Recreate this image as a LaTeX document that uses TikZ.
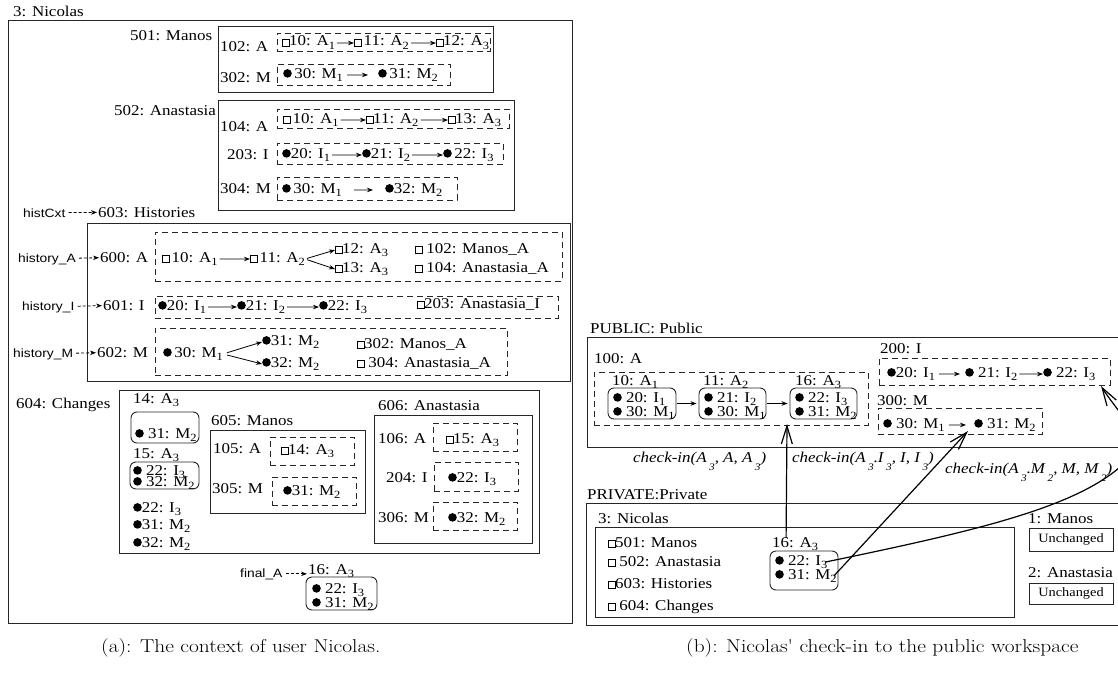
\documentclass[tikz,border=0pt]{standalone}
\usepackage{fontspec}
\setmainfont{Liberation Serif}[FakeStretch=1.13]
\newfontfamily\sansf{Liberation Sans}[FakeStretch=1.15]
\newfontfamily\capf{Latin Modern Roman}[FakeStretch=1.15]
\usetikzlibrary{arrows.meta,fit}

% small glyphs used inside the labels
\newcommand\sqr{\tikz[baseline=0pt]\draw[solid,line width=0.6pt] (0.4pt,0pt) rectangle (6.8pt,6.4pt);}
\newcommand\bul{\tikz[baseline=0pt]\fill[solid] (4.3pt,4.6pt) circle[radius=4.3pt];}
\newcommand\lo[1]{\raisebox{-0.26em}{\fontsize{11}{11}\selectfont #1}}
\newcommand\lolo[1]{\,\raisebox{-0.55em}{\fontsize{10}{10}\selectfont #1}}

\tikzset{
  txt/.style={anchor=base west,inner sep=0pt,font=\fontsize{15}{16}\selectfont},
  itxt/.style={txt,font=\fontsize{15}{16}\selectfont\itshape},
  stxt/.style={anchor=base west,inner sep=0pt,font=\sansf\fontsize{12}{13}\selectfont},
  solidbox/.style={draw=black!85,line width=0.9pt,inner sep=0pt},
  dashbox/.style={draw=black!85,line width=0.9pt,inner sep=0pt,dash pattern=on 6pt off 4pt},
  roundbox/.style={draw=black!85,line width=0.9pt,inner sep=0pt,rounded corners=6pt},
  arr/.style={-{Stealth[length=6pt,width=4.5pt]},line width=0.8pt,shorten <=2pt},
  darr/.style={-{Stealth[length=6pt,width=4.5pt]},line width=0.8pt,dash pattern=on 3pt off 2pt,shorten <=3pt,shorten >=1pt},
  ck/.style={-{Straight Barb[length=18pt,width=11pt]},line width=1.2pt},
  captxt/.style={anchor=base west,inner sep=0pt,font=\capf\fontsize{18.6}{20}\selectfont},
}

\begin{document}
\begin{tikzpicture}[x=1pt,y=-1pt]
\useasboundingbox (0,0) rectangle (1118,677);

% ===================== (a) context of Nicolas =====================
\node[txt] (nic) at (13,17) {3: Nicolas};
\node[solidbox,fit={(8,20) (572,623)}] (ctx) {};

% 501: Manos
\node[txt] (l501) at (130,41) {501: Manos};
\node[solidbox,fit={(218,26) (493,92)}] (b501) {};
\node[txt] (l102) at (220,52) {102: A};
\node[dashbox,fit={(277,33) (490,51)}] (d102) {};
\node[txt] (a10) at (282,46) {\sqr10: A\lo1};
\node[txt] (a11) at (354,46) {\sqr\,11: A\lo2};
\node[txt] (a12) at (436,46) {\sqr12: A\lo3};
\draw[arr] (a10) -- (a11);
\draw[arr] (a11) -- (a12);
\node[txt] (l302) at (220,82) {302: M};
\node[dashbox,fit={(277,64) (450,85)}] (d302) {};
\node[txt] (a30) at (283,78) {\bul\,30: M\lo1};
\node[txt] (a31) at (378,78) {\bul\,31: M\lo2};
\draw[arr,shorten <=4pt,shorten >=10pt] (a30) -- (a31);

% 502: Anastasia
\node[txt] (l502) at (114,115) {502: Anastasia};
\node[solidbox,fit={(218,100) (514,210)}] (b502) {};
\node[txt] (l104) at (220,131) {104: A};
\node[dashbox,fit={(277,109) (509,128)}] (d104) {};
\node[txt] (b10) at (283,123) {\sqr\,10: A\lo1};
\node[txt] (b11) at (366,123) {\sqr11: A\lo2};
\node[txt] (b13) at (448,123) {\sqr13: A\lo3};
\draw[arr] (b10) -- (b11);
\draw[arr] (b11) -- (b13);
\node[txt] (l203) at (227,159) {203: I};
\node[dashbox,fit={(277,143) (503,164)}] (d203) {};
\node[txt] (b20) at (282,158) {\bul20: I\lo1};
\node[txt] (b21) at (362,158) {\bul21: I\lo2};
\node[txt] (b22) at (443,158) {\bul\,22: I\lo3};
\draw[arr] (b20) -- (b21);
\draw[arr] (b21) -- (b22);
\node[txt] (l304) at (220,193) {304: M};
\node[dashbox,fit={(277,177) (457,200)}] (d304) {};
\node[txt] (b30) at (282,193) {\bul\,30: M\lo1};
\node[txt] (b32) at (385,193) {\bul32: M\lo2};
\draw[arr,shorten <=12pt,shorten >=12pt] (b30) -- (b32);

% 603: Histories
\node[stxt] (hcx) at (23,217) {histCxt};
\node[txt] (l603) at (98,217) {603: Histories};
\draw[darr] (hcx) -- (l603);
\node[solidbox,fit={(87,223) (570,381)}] (b603) {};

\node[stxt] (hA) at (18,262) {history\_A};
\node[txt] (l600) at (100,262) {600: A};
\draw[darr] (hA) -- (l600);
\node[dashbox,fit={(155,232) (562,281)}] (d600) {};
\node[txt] (h10) at (162,262) {\sqr\,10: A\lo1};
\node[txt] (h11) at (250,262) {\sqr\,11: A\lo2};
\node[txt] (h12) at (335,253) {\sqr12: A\lo3};
\node[txt] (h13) at (335,272) {\sqr13: A\lo3};
\draw[arr] (h10) -- (h11);
\draw[arr] (h11.east) -- (h12.west);
\draw[arr] (h11.east) -- (h13.west);
\node[txt] (h102) at (415,253) {\sqr\ 102: Manos\_A};
\node[txt] (h104) at (415,272) {\sqr\ 104: Anastasia\_A};

\node[stxt] (hI) at (22,310) {history\_I};
\node[txt] (l601) at (103,310) {601: I};
\draw[darr] (hI) -- (l601);
\node[dashbox,fit={(155,296) (558,318)}] (d601) {};
\node[txt] (h20) at (158,310) {\bul20: I\lo1};
\node[txt] (h21) at (237,310) {\bul21: I\lo2};
\node[txt] (h22) at (319,310) {\bul22: I\lo3};
\draw[arr] (h20) -- (h21);
\draw[arr] (h21) -- (h22);
\node[txt] (h203) at (417,308) {\sqr203: Anastasia\_I};

\node[stxt] (hM) at (13,357) {history\_M};
\node[txt] (l602) at (97,357) {602: M};
\draw[darr] (hM) -- (l602);
\node[dashbox,fit={(155,328) (507,375)}] (d602) {};
\node[txt] (h30) at (163,357) {\bul\,30: M\lo1};
\node[txt] (h31) at (262,345) {\bul31: M\lo2};
\node[txt] (h32) at (262,367) {\bul32: M\lo2};
\draw[arr,shorten <=4pt] (h30.east) -- (h31.west);
\draw[arr,shorten <=4pt] (h30.east) -- (h32.west);
\node[txt] (h302) at (357,348) {\sqr302: Manos\_A};
\node[txt] (h304) at (357,367) {\sqr\ 304: Anastasia\_A};

% 604: Changes
\node[txt] (l604) at (16,408) {604: Changes};
\node[solidbox,fit={(119,390) (539,553)}] (b604) {};
\node[txt] (c14) at (133,403) {14: A\lo3};
\node[roundbox,fit={(131,412) (199,443)}] (r14) {};
\node[txt] (c14a) at (135,438) {\bul\ 31: M\lo2};
\node[txt] (c15) at (133,458) {15: A\lo3};
\node[roundbox,fit={(130,462) (199,489)}] (r15) {};
\node[txt] (c15a) at (133,475) {\bul\ 22: I\lo3};
\node[txt] (c15b) at (133,486) {\bul\ 32: M\lo2};
\node[txt] (c22) at (133,512) {\bul22: I\lo3};
\node[txt] (c31) at (133,529) {\bul31: M\lo2};
\node[txt] (c32) at (133,547) {\bul32: M\lo2};

\node[txt] (l605) at (211,425) {605: Manos};
\node[solidbox,fit={(210,430) (365,513)}] (b605) {};
\node[txt] (l105) at (213,453) {105: A};
\node[dashbox,fit={(270,437) (354,465)}] (d105) {};
\node[txt] (m14) at (281,454) {\sqr14: A\lo3};
\node[txt] (l305) at (212,493) {305: M};
\node[dashbox,fit={(272,477) (356,505)}] (d305) {};
\node[txt] (m31) at (283,495) {\bul31: M\lo2};

\node[txt] (l606) at (378,410) {606: Anastasia};
\node[solidbox,fit={(374,415) (532,543)}] (b606) {};
\node[txt] (l106) at (378,443) {106: A};
\node[dashbox,fit={(433,423) (517,451)}] (d106) {};
\node[txt] (n15) at (446,443) {\sqr15: A\lo3};
\node[txt] (l204) at (386,482) {204: I};
\node[dashbox,fit={(434,462) (518,491)}] (d204) {};
\node[txt] (n22) at (448,482) {\bul22: I\lo3};
\node[txt] (l306) at (378,522) {306: M};
\node[dashbox,fit={(433,502) (517,530)}] (d306) {};
\node[txt] (n32) at (448,522) {\bul32: M\lo2};

% final_A
\node[stxt] (fA) at (240,577) {final\_A};
\node[txt] (f16) at (308,574) {16: A\lo3};
\draw[darr] (fA.east) -- (fA.east -| f16.west);
\node[roundbox,fit={(306,577) (377,610)}] (r16) {};
\node[txt] (f22) at (312,593) {\bul\ 22: I\lo3};
\node[txt] (f31) at (312,607) {\bul\ 31: M\lo2};

% ===================== (b) check-in =====================
\node[txt] (lpub) at (590,333) {PUBLIC: Public};
\node[solidbox,fit={(587,337) (1140,447)}] (pub) {};
\node[txt] (l100) at (594,363) {100: A};
\node[dashbox,fit={(594,372) (868,425)}] (d100) {};
\node[txt] (p10) at (612,385) {10: A\lo1};
\node[roundbox,fit={(608,388) (676,419)}] (pr10) {};
\node[txt] (p10a) at (613,402) {\bul\ 20: I\lo1};
\node[txt] (p10b) at (613,416) {\bul\ 30: M\lo1};
\node[txt] (p11) at (703,385) {11: A\lo2};
\node[roundbox,fit={(699,388) (766,419)}] (pr11) {};
\node[txt] (p11a) at (704,402) {\bul\ 21: I\lo2};
\node[txt] (p11b) at (704,416) {\bul\ 30: M\lo1};
\node[txt] (p16) at (795,385) {16: A\lo3};
\node[roundbox,fit={(790,388) (857,419)}] (pr16) {};
\node[txt] (p16a) at (795,402) {\bul\ 22: I\lo3};
\node[txt] (p16b) at (795,416) {\bul\ 31: M\lo2};
\draw[arr,shorten <=1pt,shorten >=2pt] (pr10) -- (pr11);
\draw[arr,shorten <=1pt,shorten >=2pt] (pr11) -- (pr16);

\node[txt] (l200) at (880,353) {200: I};
\node[dashbox,fit={(879,358) (1110,385)}] (d200) {};
\node[txt] (q20) at (887,377) {\bul20: I\lo1};
\node[txt] (q21) at (965,377) {\bul\ 21: I\lo2};
\node[txt] (q22) at (1043,377) {\bul\ 22: I\lo3};
\draw[arr,shorten <=4pt,shorten >=5pt] (q20) -- (q21);
\draw[arr] (q21) -- (q22);
\node[txt] (l300) at (877,405) {300: M};
\node[dashbox,fit={(878,408) (1042,434)}] (d300) {};
\node[txt] (q30) at (883,428) {\bul\ 30: M\lo1};
\node[txt] (q31) at (974,428) {\bul\ 31: M\lo2};
\draw[arr,shorten <=4pt,shorten >=8pt] (q30) -- (q31);

\node[itxt] (ciA) at (633,462) {check-in(A\lolo3, A, A\lolo3)};
\node[itxt] (ciI) at (792,462) {check-in(A\lolo3.I\lolo3, I, I\lolo3)};
\node[itxt] (ciM) at (945,473) {check-in(A\lolo3.M\lolo2, M, M\lolo2)};

\node[txt] (lpriv) at (587,499) {PRIVATE:Private};
\node[solidbox,fit={(586,503) (1140,625)}] (priv) {};
\node[txt] (lnic) at (598,523) {3: Nicolas};
\node[solidbox,fit={(595,527) (1014,617)}] (bnic) {};
\node[txt] (w501) at (608,547) {\sqr501: Manos};
\node[txt] (w502) at (608,566) {\sqr\ 502: Anastasia};
\node[txt] (w603) at (608,588) {\sqr603: Histories};
\node[txt] (w604) at (608,610) {\sqr\ 604: Changes};
\node[txt] (w16) at (772,547) {16: A\lo3};
\node[roundbox,fit={(770,551) (838,590)}] (rw16) {};
\node[txt] (w22) at (775,565) {\bul\ 22: I\lo3};
\node[txt] (w31) at (775,579) {\bul\ 31: M\lo2};

\node[txt] (lm1) at (1028,523) {1: Manos};
\node[solidbox,fit={(1029,528) (1113,551)}] (u1) {};
\node[font=\fontsize{12.7}{13}\selectfont,inner sep=0pt] at (u1.center) {Unchanged};
\node[txt] (lm2) at (1028,577) {2: Anastasia};
\node[solidbox,fit={(1029,583) (1113,604)}] (u2) {};
\node[font=\fontsize{12.7}{13}\selectfont,inner sep=0pt] at (u2.center) {Unchanged};

% check-in connectors
\coordinate (tipA) at (787,424);
\coordinate (tipM) at (968,431);
\coordinate (tipI) at (1101,386);
\draw[ck] ([xshift=-9pt,yshift=-1pt]w16.north) -- (tipA);
\draw[ck] ([xshift=-3pt]w31.east) -- (tipM);
\draw[ck] ([xshift=-2pt]w22.east) .. controls (980,530) and (1090,505) .. (1132,455)
          .. controls (1145,437) and (1116,410) .. (tipI);

% captions
\node[captxt] (capa) at (101,652) {(a): The context of user Nicolas.};
\node[captxt] (capb) at (686,652) {(b): Nicolas' check-in to the public workspace};
\end{tikzpicture}
\end{document}
